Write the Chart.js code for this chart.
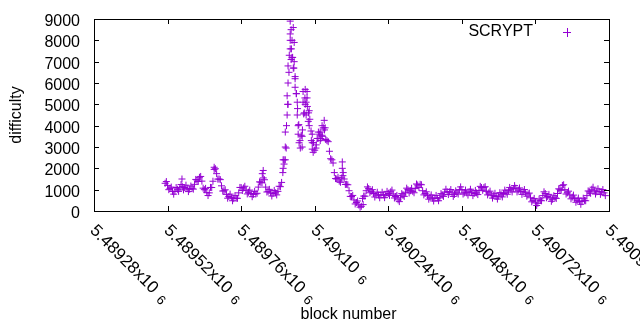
<!DOCTYPE html>
<html>
<head>
<meta charset="utf-8">
<script src="https://cdn.jsdelivr.net/npm/chart.js@4/dist/chart.umd.min.js"></script>
<style>
  body { margin: 0; background: #fff; }
</style>
</head>
<body>
<canvas id="chart" width="640" height="330"></canvas>
<script>
// ------------------ Dados ------------------
const seriesName = "SCRYPT";
const xTitle = "block number";
const yTitle = "difficulty";

// eixo x: blocos
const xMin = 5489280, xMax = 5490960, xStep = 240;
const yMin = 0, yMax = 9000, yStep = 1000;

// serie principal: um ponto a cada 8 blocos
const blockStart = 5489512;
const blockStep = 8;
const difficulty = [
  1300,1200,1060,920,920,1020,1080,1140,1100,1060,
  1020,1060,1250,1450,1580,1400,1000,860,850,1100,
  1950,1750,1500,1180,950,780,680,640,580,600,
  850,1100,1080,980,880,820,780,800,1120,1350,
  1550,1120,920,850,820,850,920,1140,1800,3000,
  5000,8000,7200,6200,4800,3300,3800,5300,4900,4300,
  3200,2850,3400,3600,3550,3800,3300,2800,2400,1800,
  1500,1400,1550,1500,1250,950,680,520,400,280,
  220,700,950,1050,920,820,750,750,750,750,
  760,820,900,800,680,520,620,750,880,1000,
  950,920,1050,1220,1250,950,820,720,650,600,
  600,600,620,750,880,900,900,850,780,850,
  1000,1000,850,850,900,880,820,850,950,1100,
  1100,920,850,750,720,680,700,760,820,880,
  950,1000,1050,1070,980,920,900,850,800,620,
  500,420,360,500,720,820,680,620,550,620,
  820,1000,1200,1000,850,750,650,580,500,450,
  440,500,720,900,1020,950,900,920,900,850
];

// blocos intermediarios (4 blocos depois de cada ponto acima): bordas da faixa
const difficultyMid = [
  1380,1000,1120,790,1100,920,1240,990,1210,910,
  1170,1025,1480,1385,1620,1070,1060,725,1105,1395,
  1980,1495,1470,935,995,600,790,480,720,595,
  1105,960,1160,800,980,670,920,830,1365,1320,
  1465,890,1015,705,965,755,1160,1340,2400,4000,
  6500,7600,6700,5500,4050,3550,4550,5100,4600,3750,
  3200,2950,3700,3400,3900,3350,3250,2450,2250,1520,
  1580,1345,1655,1245,1230,685,730,330,470,180,
  590,695,1130,855,1000,655,880,620,880,625,
  920,730,980,610,730,440,815,685,1070,845,
  1065,855,1265,1105,1230,755,900,555,755,470,
  730,480,815,685,1020,770,1005,685,945,795,
  1130,795,980,745,1020,720,965,770,1155,970,
  1140,755,930,605,830,560,860,660,980,785,
  1105,895,1190,895,1080,780,1005,695,840,430,
  590,260,560,480,900,620,780,455,715,590,
  1040,970,1230,795,930,570,745,410,605,315,
  600,480,940,830,1115,795,1040,780,1005,720
];

// pontos dispersos (picos)
const spikeBlocks = [
  5489567,5489672,5489829,5489832,5489897,5489897,5489900,5489904,5489904,5489907,
  5489910,5489910,5489913,5489913,5489913,5489917,5489920,5489920,5489920,5489923,
  5489923,5489926,5489926,5489930,5489930,5489933,5489933,5489936,5489936,5489940,
  5489943,5489943,5489946,5489946,5489949,5489953,5489959,5489959,5489962,5489962,
  5489966,5489969,5489969,5489972,5489975,5489975,5489979,5489982,5489982,5489989,
  5489992,5489992,5489995,5490005,5490011,5490018,5490018,5490024,5490024,5490031,
  5490034,5490090,5490090,5490093,5490158
];
const spikeDifficulty = [
  1500,2050,1750,1900,2000,2400,2200,3700,2400,2950,
  4500,5400,6000,5000,6800,7300,8900,8300,7600,8500,
  7100,8000,7200,8600,6700,7900,7000,6300,5800,5500,
  5100,4500,4000,3600,3200,2950,3000,3500,5600,5100,
  4600,5700,5000,4500,5300,5600,4200,4700,4000,3300,
  2900,3600,2750,3100,3400,3700,3300,4000,3500,4250,
  3900,2300,2000,1800,300
];

const purple = "#9400d3";
const font = "16px 'Liberation Sans', Arial, sans-serif";

let points = [];
difficulty.forEach((v, i) => {
  points.push({ x: blockStart + i * blockStep, y: v });
  points.push({ x: blockStart + i * blockStep + blockStep / 2, y: difficultyMid[i] });
});
spikeBlocks.forEach((b, i) => points.push({ x: b, y: spikeDifficulty[i] }));

// ------------------ Eixos estilo gnuplot ------------------
function tickLabel(v) {
  return (v / 1e6).toFixed(5).replace(/0+$/, '').replace(/\.$/, '');
}

const gnuplotAxes = {
  id: 'gnuplotAxes',
  afterDraw(chart) {
    const ctx = chart.ctx;
    const a = chart.chartArea;
    const xs = chart.scales.x, ys = chart.scales.y;
    ctx.save();
    ctx.strokeStyle = '#000';
    ctx.lineWidth = 1;
    ctx.strokeRect(Math.round(a.left) + 0.5, Math.round(a.top) + 0.5,
                   Math.round(a.right - a.left), Math.round(a.bottom - a.top));

    ctx.font = font;
    ctx.fillStyle = '#000';

    // y ticks
    ctx.textAlign = 'right';
    ctx.textBaseline = 'middle';
    ys.ticks.forEach(t => {
      const y = Math.round(ys.getPixelForValue(t.value)) + 0.5;
      ctx.beginPath();
      ctx.moveTo(a.left, y); ctx.lineTo(a.left + 5, y);
      ctx.moveTo(a.right, y); ctx.lineTo(a.right - 5, y);
      ctx.stroke();
      ctx.fillText(String(t.value), a.left - 14, y + 2);
    });

    // x ticks
    xs.ticks.forEach(t => {
      const x = Math.round(xs.getPixelForValue(t.value)) + 0.5;
      ctx.beginPath();
      ctx.moveTo(x, a.bottom); ctx.lineTo(x, a.bottom - 5);
      ctx.moveTo(x, a.top); ctx.lineTo(x, a.top + 5);
      ctx.stroke();

      ctx.save();
      ctx.translate(x + 4, a.bottom + 11);
      ctx.rotate(Math.PI / 4);
      ctx.textAlign = 'left';
      ctx.textBaseline = 'top';
      ctx.font = "17px 'Liberation Sans', Arial, sans-serif";
      const main = tickLabel(t.value) + 'x10';
      ctx.fillText(main, 0, 0);
      const w = ctx.measureText(main).width;
      ctx.font = "13px 'Liberation Sans', Arial, sans-serif";
      ctx.fillText('6', w + 7, 5);
      ctx.restore();
    });

    // titulos
    ctx.font = font;
    ctx.textAlign = 'center';
    ctx.textBaseline = 'middle';
    ctx.fillText(xTitle, (a.left + a.right) / 2 - 3, 315);
    ctx.save();
    ctx.translate(17, 115);
    ctx.rotate(-Math.PI / 2);
    ctx.fillText(yTitle, 0, 0);
    ctx.restore();

    // legenda
    ctx.textAlign = 'right';
    ctx.fillText(seriesName, 533, 32);
    ctx.strokeStyle = purple;
    ctx.beginPath();
    ctx.moveTo(563, 32.5); ctx.lineTo(571, 32.5);
    ctx.moveTo(567.5, 28); ctx.lineTo(567.5, 37);
    ctx.stroke();
    ctx.restore();
  }
};

// ------------------ Grafico ------------------
new Chart(document.getElementById('chart'), {
  type: 'scatter',
  data: {
    datasets: [{
      label: seriesName,
      data: points,
      pointStyle: 'cross',
      pointRadius: 3.5,
      pointBorderWidth: 1,
      borderColor: purple,
      backgroundColor: purple
    }]
  },
  options: {
    responsive: false,
    animation: false,
    devicePixelRatio: 1,
    layout: { padding: { left: 94, right: 31, top: 19, bottom: 119 } },
    plugins: { legend: { display: false }, tooltip: { enabled: false } },
    scales: {
      x: { type: 'linear', min: xMin, max: xMax, display: false,
           ticks: { stepSize: xStep } },
      y: { type: 'linear', min: yMin, max: yMax, display: false,
           ticks: { stepSize: yStep } }
    }
  },
  plugins: [gnuplotAxes]
});
</script>
</body>
</html>
